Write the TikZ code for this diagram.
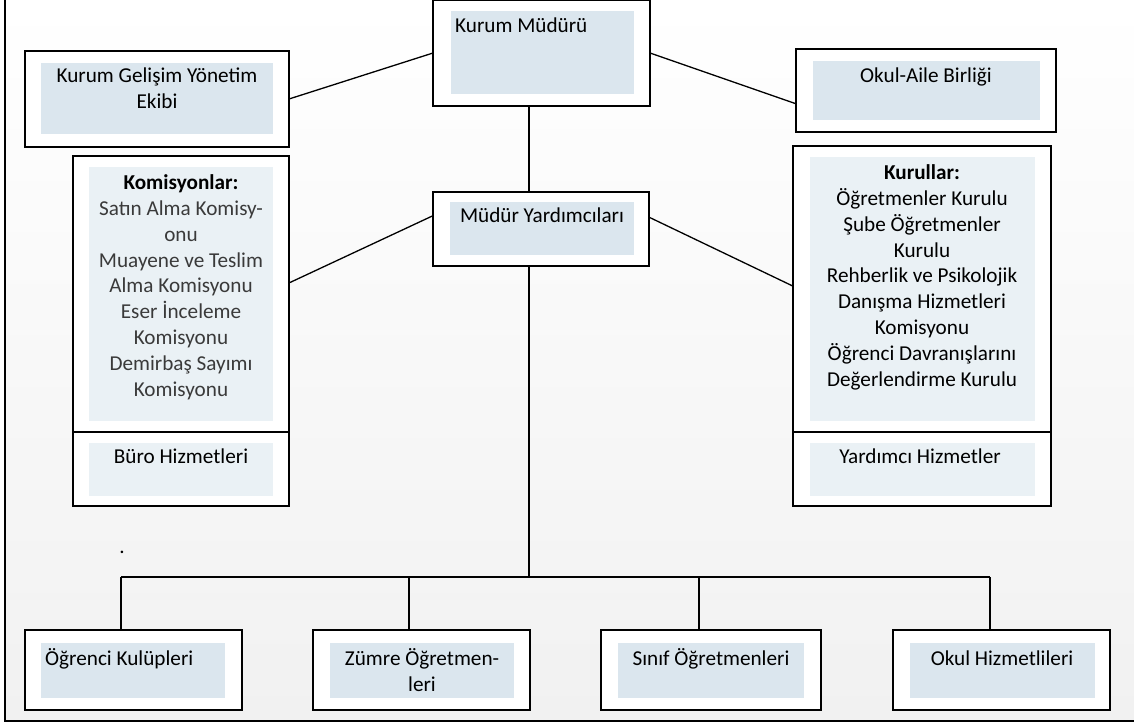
\documentclass[tikz,border=0pt]{standalone}
\usepackage{fontspec}
\setmainfont{Carlito}
\usetikzlibrary{calc}
\definecolor{bggray}{HTML}{F1F1F1}
\definecolor{fillA}{HTML}{DBE6EE}
\definecolor{fillB}{HTML}{EAF1F5}
\definecolor{txtgray}{HTML}{3A3A3A}
\newcommand\obox[5]{\node[outerbox, minimum width={#4-#2}, minimum height={#5-#3}, anchor=north west] (#1) at (#2,#3) {};}
\newcommand\ibox[6]{\node[innerbox, fill=#6, minimum width={#4-#2}, minimum height={#5-#3}, anchor=north west] (#1) at (#2,#3) {};}
\begin{document}
\begin{tikzpicture}[x=1pt,y=-1pt,
  outerbox/.style={draw=black, line width=1.6pt, fill=white, inner sep=0pt, outer sep=0pt},
  innerbox/.style={inner sep=0pt, outer sep=0pt},
  txt/.style={inner sep=0pt, align=center, anchor=north, text=black, font=\fontsize{21.2}{25.8}\selectfont},
  conn/.style={line width=1.3pt, draw=black}]
\useasboundingbox (0,0) rectangle (1134,725);
\shade[top color=white, bottom color=bggray] (5,0) rectangle (1134,721);
\draw[line width=1.8pt] (5,0) -- (5,721) -- (1134,721);

% top row
\obox{km}{433}{0}{650}{106}
\ibox{kmin}{451}{11}{634}{94}{fillA}
\node[txt, anchor=north west] (kmt) at (455,12) {\rule{0pt}{20pt}Kurum Müdürü};

\obox{kgye}{25}{51}{289}{147}
\ibox{kgyein}{41}{63}{273}{134}{fillA}
\node[txt] (kgyet) at (157,62) {\rule{0pt}{20pt}Kurum Gelişim Yönetim\\Ekibi};

\obox{oab}{796}{49}{1056}{132}
\ibox{oabin}{813}{61}{1040}{120}{fillA}
\node[txt] (oabt) at (926,62) {\rule{0pt}{20pt}Okul-Aile Birliği};

% middle
\obox{my}{433}{192}{649}{266}
\ibox{myin}{450}{202}{634}{255}{fillA}
\node[txt] (myt) at (542,202.5) {\rule{0pt}{20pt}Müdür Yardımcıları};

\obox{komtop}{73}{156}{289}{432}
\obox{kombot}{73}{432}{289}{506}
\ibox{komin}{89}{167}{273}{421}{fillB}
\ibox{buroin}{89}{443}{273}{496}{fillB}
\node[txt] (komt) at (181,169.5) {\rule{0pt}{20pt}\textbf{Komisyonlar:}\\\color{txtgray}Satın Alma Komisy-\\\color{txtgray}onu\\\color{txtgray}Muayene ve Teslim\\\color{txtgray}Alma Komisyonu\\\color{txtgray}Eser İnceleme\\\color{txtgray}Komisyonu\\\color{txtgray}Demirbaş Sayımı\\\color{txtgray}Komisyonu};
\node[txt] (burot) at (181,443.5) {\rule{0pt}{20pt}Büro Hizmetleri};

\obox{kurtop}{793}{146}{1051}{432}
\obox{kurbot}{793}{432}{1051}{506}
\ibox{kurin}{810}{157}{1035}{421}{fillB}
\ibox{yardin}{810}{443}{1035}{496}{fillB}
\node[txt] (kurt) at (922,159.5) {\rule{0pt}{20pt}\textbf{Kurullar:}\\Öğretmenler Kurulu\\Şube Öğretmenler\\Kurulu\\Rehberlik ve Psikolojik\\Danışma Hizmetleri\\Komisyonu\\Öğrenci Davranışlarını\\Değerlendirme Kurulu};
\node[txt] (yardt) at (920,443.5) {\rule{0pt}{20pt}Yardımcı Hizmetler};

\node[inner sep=0pt, font=\fontsize{21.2}{25.8}\selectfont] (dot) at (122,552) {.};

% bottom row
\obox{ogr}{25}{630}{242}{710}
\ibox{ogrin}{41}{643}{225}{698}{fillA}
\node[txt, anchor=north west] (ogrt) at (45,645.5) {\rule{0pt}{20pt}Öğrenci Kulüpleri};

\obox{zum}{313}{630}{530}{710}
\ibox{zumin}{330}{643}{514}{698}{fillA}
\node[txt] (zumt) at (422,645.5) {\rule{0pt}{20pt}Zümre Öğretmen-\\leri};

\obox{sinif}{601}{630}{821}{710}
\ibox{sinifin}{618}{643}{804}{698}{fillA}
\node[txt] (sinift) at (711,645.5) {\rule{0pt}{20pt}Sınıf Öğretmenleri};

\obox{okul}{893}{630}{1110}{710}
\ibox{okulin}{910}{643}{1095}{698}{fillA}
\node[txt] (okult) at (1002,645.5) {\rule{0pt}{20pt}Okul Hizmetlileri};

% connectors
\coordinate (mainx) at (529,0);
\coordinate (bus) at (529,577);
\coordinate (b1) at (121,577);
\coordinate (b2) at (409,577);
\coordinate (b3) at (699,577);
\coordinate (b4) at (990,577);

\draw[conn] ($(km.north west)!0.5!(km.south west)$) -- ($(kgye.north east)!0.5!(kgye.south east)$);
\draw[conn] ($(km.north east)!0.5!(km.south east)$) -- ($(oab.north west)!0.66!(oab.south west)$);
\draw[conn] (km.south -| mainx) -- (my.north -| mainx);
\draw[conn] ($(my.north west)!0.32!(my.south west)$) -- ($(komtop.north east)!0.46!(komtop.south east)$);
\draw[conn] ($(my.north east)!0.34!(my.south east)$) -- ($(kurtop.north west)!0.49!(kurtop.south west)$);
\draw[conn] (my.south -| mainx) -- (bus);
\draw[conn] (b1) -- (b4);
\draw[conn] (b1) -- (b1 |- ogr.north);
\draw[conn] (b2) -- (b2 |- zum.north);
\draw[conn] (b3) -- (b3 |- sinif.north);
\draw[conn] (b4) -- (b4 |- okul.north);
\end{tikzpicture}
\end{document}
